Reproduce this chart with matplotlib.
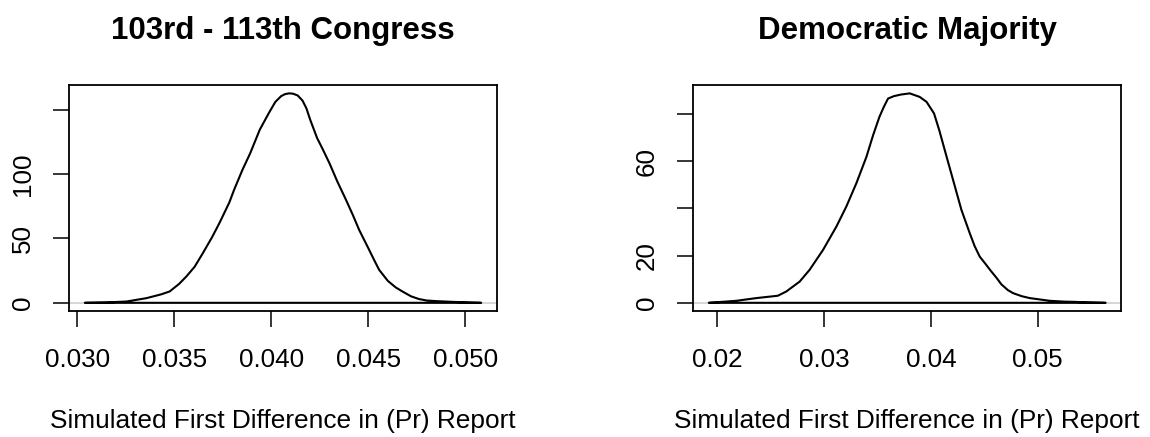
import numpy as np
import matplotlib
matplotlib.use("Agg")
import matplotlib.pyplot as plt

plt.rcParams['font.family'] = ['Liberation Sans', 'DejaVu Sans']

# density curves
congress_x = [0.03038, 0.0315, 0.03252, 0.03355, 0.0343, 0.03475, 0.03524, 0.03561,
              0.03604, 0.03646, 0.03694, 0.03732, 0.03783, 0.03807, 0.03850, 0.03890,
              0.03940, 0.03989, 0.04020, 0.04050, 0.04070, 0.04090, 0.04110, 0.04135,
              0.04160, 0.04180, 0.04200, 0.04235, 0.04265, 0.04300, 0.04340, 0.04384,
              0.04420, 0.04452, 0.04495, 0.04530, 0.04555, 0.04600, 0.04640, 0.04675,
              0.04720, 0.04761, 0.04800, 0.04850, 0.04940, 0.05010, 0.05081]
congress_y = [0, 0.3, 1.0, 3.6, 6.5, 8.8, 14.7, 20.4, 28, 38.5, 51, 62, 78, 87.6,
              103.1, 116, 134.5, 148, 156, 160.5, 162, 162.6, 162.4, 161, 157, 151,
              142, 128, 119, 108, 94, 80, 68, 56.6, 43.7, 33, 25.6, 17.0, 12.0, 8.8,
              5.0, 2.9, 1.8, 1.3, 0.7, 0.3, 0]

dem_x = [0.01925, 0.02181, 0.02369, 0.0257, 0.02649, 0.02774, 0.02867, 0.02992, 0.03117,
         0.0321, 0.03304, 0.03398, 0.03460, 0.0352, 0.03560, 0.036, 0.03653, 0.03720,
         0.03803, 0.03896, 0.0396, 0.0403, 0.04080, 0.0413, 0.04208, 0.04286, 0.04364,
         0.04410, 0.04457, 0.04511, 0.04560, 0.04614, 0.0466, 0.04720, 0.04769, 0.04850,
         0.04925, 0.05112, 0.05250, 0.05346, 0.05450, 0.05634]
dem_y = [0, 0.85, 2.0, 3.0, 4.8, 9.0, 14.0, 22.4, 32.3, 40.8, 50.7, 61.9, 71.0, 78.9,
         83.0, 86.6, 87.6, 88.3, 88.8, 87.3, 85.2, 80.3, 73.0, 64.8, 52.1, 39.4, 29.5,
         24.0, 19.6, 16.5, 13.6, 10.6, 7.8, 5.4, 4.1, 2.8, 2.0, 0.85, 0.5, 0.4, 0.2, 0]

titles = ["103rd - 113th Congress", "Democratic Majority"]
xlab = "Simulated First Difference in (Pr) Report"

congress_xticks = [0.030, 0.035, 0.040, 0.045, 0.050]
congress_xlabels = ["0.030", "0.035", "0.040", "0.045", "0.050"]
congress_yticks = [0, 50, 100, 150]
congress_ylabels = ["0", "50", "100", ""]

dem_xticks = [0.02, 0.03, 0.04, 0.05]
dem_xlabels = ["0.02", "0.03", "0.04", "0.05"]
dem_yticks = [0, 20, 40, 60, 80]
dem_ylabels = ["0", "20", "", "60", ""]

fig = plt.figure(figsize=(11.5, 4.37), dpi=100)
ax1 = fig.add_axes([0.06, 0.2879, 0.3722, 0.5176])
ax2 = fig.add_axes([0.6026, 0.2879, 0.3726, 0.5176])

panels = [
    (ax1, congress_x, congress_y, titles[0], congress_xticks, congress_xlabels,
     congress_yticks, congress_ylabels),
    (ax2, dem_x, dem_y, titles[1], dem_xticks, dem_xlabels, dem_yticks, dem_ylabels),
]

for ax, xs, ys, title, xt, xtl, yt, ytl in panels:
    xs = np.array(xs)
    ys = np.array(ys)
    # R style 4% padding
    xr = xs.max() - xs.min()
    ax.set_xlim(xs.min() - 0.04 * xr, xs.max() + 0.04 * xr)
    ax.set_ylim(-0.04 * ys.max(), 1.04 * ys.max())
    ax.axhline(0, color="#d0d0d0", lw=1.2, zorder=1)
    ax.fill(xs, ys, facecolor="none", edgecolor="black", lw=1.5, zorder=2,
            joinstyle="round")

    ax.set_xticks(xt)
    ax.set_xticklabels(xtl)
    ax.set_yticks(yt)
    ax.set_yticklabels(ytl, rotation=90, va="center")
    ax.tick_params(axis="both", direction="out", length=11.5, width=1.1,
                   labelsize=18.7, colors="black")
    ax.tick_params(axis="x", pad=15)
    ax.tick_params(axis="y", pad=13)
    for s in ax.spines.values():
        s.set_linewidth(1.3)
        s.set_color("black")

    ax.set_title(title, fontsize=22.5, fontweight="bold", pad=33)
    ax.set_xlabel(xlab, fontsize=18.9, labelpad=27)

fig.savefig("out.png", dpi=100)
